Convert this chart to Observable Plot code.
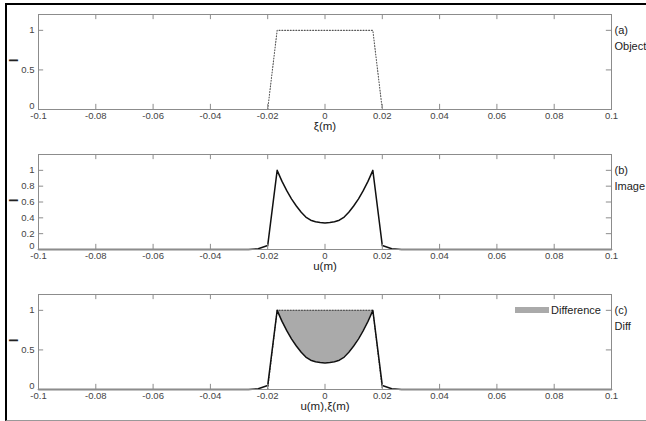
<!DOCTYPE html>
<html><head><meta charset="utf-8">
<script src="https://cdn.jsdelivr.net/npm/d3@7"></script>
<script src="https://cdn.jsdelivr.net/npm/@observablehq/plot@0.6"></script>
<style>
body{margin:0;background:#fff;}
#wrap{position:relative;width:646px;height:421px;overflow:hidden;background:#fff;font-family:"Liberation Sans",Arial,sans-serif;}
.panel{position:absolute;left:0;}
#frame{position:absolute;left:5px;top:3px;width:641px;height:418px;box-sizing:border-box;border-top:2px solid #000;border-left:2px solid #000;border-bottom:1px solid #999;pointer-events:none;}
#legend{position:absolute;left:515px;top:302px;height:16px;display:flex;align-items:center;font-size:11px;color:#222;}
#legend .sw{width:34px;height:6px;background:#aaa;margin-right:2px;}
</style></head>
<body>
<div id="wrap">
  <div id="p0" class="panel" style="top:0px"></div>
  <div id="p1" class="panel" style="top:140px"></div>
  <div id="p2" class="panel" style="top:280px"></div>
  <div id="legend"><div class="sw"></div><span>Difference</span></div>
  <div id="frame"></div>
</div>
<script>
// ---- data ----
const xTicks = [-0.1, -0.08, -0.06, -0.04, -0.02, 0, 0.02, 0.04, 0.06, 0.08, 0.1];
const xTickLabels = ["-0.1", "-0.08", "-0.06", "-0.04", "-0.02", "0", "0.02", "0.04", "0.06", "0.08", "0.1"];
const yTicksHalf = [0, 0.5, 1];
const yTicksFifth = [0, 0.2, 0.4, 0.6, 0.8, 1];

const objectX = [-0.1, -0.02, -0.0167, 0.0167, 0.02, 0.1];
const objectI = [0, 0, 1, 1, 0, 0];

const imageX = [-0.1, -0.0267, -0.0233, -0.02, -0.0167, -0.015, -0.0133, -0.0117, -0.01, -0.0083, -0.0067, -0.005, -0.0033, -0.0017, 0,
                0.0017, 0.0033, 0.005, 0.0067, 0.0083, 0.01, 0.0117, 0.0133, 0.015, 0.0167, 0.02, 0.0233, 0.0267, 0.1];
const imageI = [0, 0, 0.01, 0.05, 1.0, 0.86, 0.74, 0.64, 0.55, 0.47, 0.41, 0.37, 0.35, 0.34, 0.335,
                0.34, 0.35, 0.37, 0.41, 0.47, 0.55, 0.64, 0.74, 0.86, 1.0, 0.05, 0.01, 0, 0];

const panelTags = ["(a)", "(b)", "(c)"];
const panelNames = ["Object", "Image", "Diff"];
const xLabels = ["\u03BE(m)", "u(m)", "u(m),\u03BE(m)"];
const legendLabel = "Difference";

// ---- tables ----
const objectData = objectX.map((x, i) => ({x, y: objectI[i]}));
const imageData = imageX.map((x, i) => ({x, y: imageI[i]}));
const topLo = objectX[2], topHi = objectX[3];
const diffData = imageData.filter(d => d.x >= topLo && d.x <= topHi).map(d => ({x: d.x, y1: d.y, y2: objectI[2]}));

const AX = "#8c8c8c";
const TXT = "#444";
const tickFont = '"Liberation Sans Narrow","Arial Narrow","Liberation Sans",Arial,sans-serif';
const tickLenY = 0.065, tickLenX = 0.0018;

function objectLine() {
  return Plot.line(objectData, {x: "x", y: "y", stroke: "#555", strokeWidth: 1.1, strokeDasharray: "1,1.8"});
}
function imageLine() {
  return Plot.line(imageData, {x: "x", y: "y", stroke: "#111", strokeWidth: 1.5});
}

function panel(idx, yTicks, rightTicks, dataMarks) {
  const yTicksNZ = yTicks.filter(d => d !== 0);
  return Plot.plot({
    width: 646, height: 140,
    marginLeft: 38, marginRight: 35, marginTop: 14, marginBottom: 31,
    x: {domain: [-0.1, 0.1]},
    y: {domain: [0, 1.2]},
    style: {fontFamily: '"Liberation Sans",Arial,sans-serif', background: "transparent", overflow: "visible"},
    marks: [
      ...dataMarks,
      Plot.frame({stroke: AX}),
      Plot.ruleX(xTicks, {y1: 0, y2: tickLenY, stroke: AX}),
      Plot.ruleX(xTicks, {y1: 1.2 - tickLenY, y2: 1.2, stroke: AX}),
      Plot.ruleY(yTicks, {x1: -0.1, x2: -0.1 + tickLenX, stroke: AX}),
      Plot.ruleY(rightTicks, {x1: 0.1 - tickLenX, x2: 0.1, stroke: AX}),
      Plot.axisX(xTicks, {tickSize: 0, tickPadding: 3, label: null, fontSize: 9.5, fill: TXT, fontFamily: tickFont,
        tickFormat: d => xTickLabels[xTicks.indexOf(d)]}),
      Plot.axisY(yTicksNZ, {tickSize: 0, tickPadding: 4, label: null, fontSize: 9.5, fill: TXT, fontFamily: tickFont,
        tickFormat: d => String(d)}),
      Plot.axisY([0], {tickSize: 0, tickPadding: 4, label: null, fontSize: 9.5, fill: TXT, fontFamily: tickFont, dy: -4,
        tickFormat: d => String(d)}),
      Plot.text([xLabels[idx]], {frameAnchor: "bottom", dy: 17, fontSize: 11.5, fill: "#222", lineAnchor: "middle"}),
      Plot.text(["I"], {frameAnchor: "left", dx: -24, rotate: -90, fontSize: 12, fontWeight: "bold", fill: "#222", lineAnchor: "middle"}),
      Plot.text([panelTags[idx]], {x: 0.1, y: 1, dx: 3, textAnchor: "start", lineAnchor: "middle", fontSize: 11, fill: "#222"}),
      Plot.text([panelNames[idx]], {x: 0.1, y: 1, dx: 3, dy: 16, textAnchor: "start", lineAnchor: "middle", fontSize: 11, fill: "#222"})
    ]
  });
}

document.getElementById("p0").append(panel(0, yTicksHalf, yTicksHalf, [objectLine()]));
document.getElementById("p1").append(panel(1, yTicksFifth, yTicksFifth, [imageLine()]));
document.getElementById("p2").append(panel(2, yTicksHalf, yTicksHalf, [
  Plot.areaY(diffData, {x: "x", y1: "y1", y2: "y2", fill: "#aaa"}),
  objectLine(),
  imageLine()
]));
document.getElementById("legend").querySelector("span").textContent = legendLabel;
</script>
</body></html>
